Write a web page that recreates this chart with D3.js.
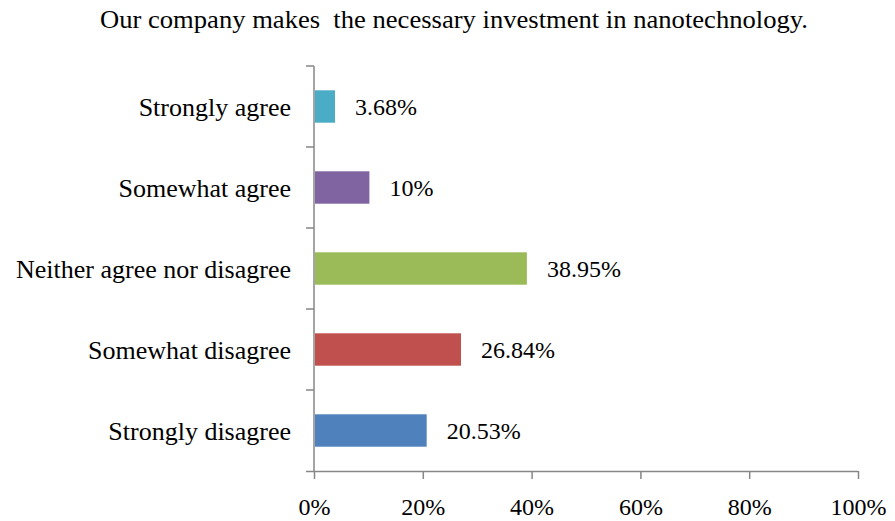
<!DOCTYPE html>
<html>
<head>
<meta charset="utf-8">
<script src="https://cdn.jsdelivr.net/npm/d3@7"></script>
<style>
  body { margin: 0; background: #fff; }
  text { font-family: "Liberation Serif", "Times New Roman", serif; fill: #000; }
</style>
</head>
<body>
<div class="svg-target"></div>
<script>
// Chart data
const categories = ['Strongly agree', 'Somewhat agree', 'Neither agree nor disagree', 'Somewhat disagree', 'Strongly disagree'];
const values = [3.68, 10, 38.95, 26.84, 20.53];
const valueLabels = ['3.68%', '10%', '38.95%', '26.84%', '20.53%'];
const colors = ['#4BACC6', '#8064A2', '#9BBB59', '#C0504D', '#4F81BD'];
const xTicks = [0, 20, 40, 60, 80, 100];
const title = 'Our company makes  the necessary investment in nanotechnology.';

const w = 895;
const h = 521;
const padding = {t: 66, r: 37, b: 50, l: 314};

const svg = d3.select('.svg-target')
    .append('svg')
    .attr('width', w)
    .attr('height', h);

// Title
svg.append('text')
    .attr('x', 454)
    .attr('y', 28)
    .attr('text-anchor', 'middle')
    .style('font-size', '26px')
    .style('white-space', 'pre')
    .attr('textLength', 708)
    .attr('lengthAdjust', 'spacingAndGlyphs')
    .text(title);

// Scales
const xScale = d3.scaleLinear()
    .domain([0, 100])
    .range([padding.l, w - padding.r]);

const yScale = d3.scaleBand()
    .domain(categories)
    .range([padding.t, h - padding.b])
    .paddingInner(0.6)
    .paddingOuter(0.3);

// x axis
const xAxis = d3.axisBottom(xScale)
    .tickValues(xTicks)
    .tickSize(8)
    .tickSizeOuter(0)
    .tickPadding(19)
    .tickFormat(d => d + '%');
const gx = svg.append('g')
    .attr('transform', `translate(0, ${h - padding.b})`)
    .call(xAxis);
gx.select('.domain')
    .attr('d', `M${padding.l - 8},0.5H${w - padding.r}`);
gx.selectAll('line').attr('stroke', '#868686').attr('stroke-width', 1.5);
gx.select('.domain').attr('stroke', '#868686').attr('stroke-width', 1.5);
gx.selectAll('text').style('font-size', '24px').attr('font-family', null);

// y axis: ticks at band boundaries
const bounds = d3.range(categories.length + 1).map(i => padding.t + i * (h - padding.t - padding.b) / categories.length);
const gy = svg.append('g');
gy.append('line')
    .attr('x1', padding.l).attr('x2', padding.l)
    .attr('y1', padding.t).attr('y2', h - padding.b)
    .attr('stroke', '#868686').attr('stroke-width', 1.5);
gy.selectAll('.tick')
    .data(bounds.slice(0, -1))
    .join('line')
    .attr('x1', padding.l - 8).attr('x2', padding.l)
    .attr('y1', d => d).attr('y2', d => d)
    .attr('stroke', '#868686').attr('stroke-width', 1.5);
gy.selectAll('.label')
    .data(categories)
    .join('text')
    .attr('x', padding.l - 23)
    .attr('y', d => yScale(d) + yScale.bandwidth() / 2)
    .attr('dy', '0.35em')
    .attr('text-anchor', 'end')
    .style('font-size', '26px')
    .text(d => d);

// Bars
svg.selectAll('.bar')
    .data(categories)
    .join('rect')
    .attr('x', xScale(0) + 1)
    .attr('y', d => yScale(d))
    .attr('width', (d, i) => xScale(values[i]) - xScale(0))
    .attr('height', yScale.bandwidth())
    .attr('fill', (d, i) => colors[i]);

// Value labels
svg.selectAll('.val')
    .data(categories)
    .join('text')
    .attr('x', (d, i) => xScale(values[i]) + 21)
    .attr('y', d => yScale(d) + yScale.bandwidth() / 2)
    .attr('dy', '0.35em')
    .style('font-size', '24px')
    .text((d, i) => valueLabels[i]);
</script>
</body>
</html>
